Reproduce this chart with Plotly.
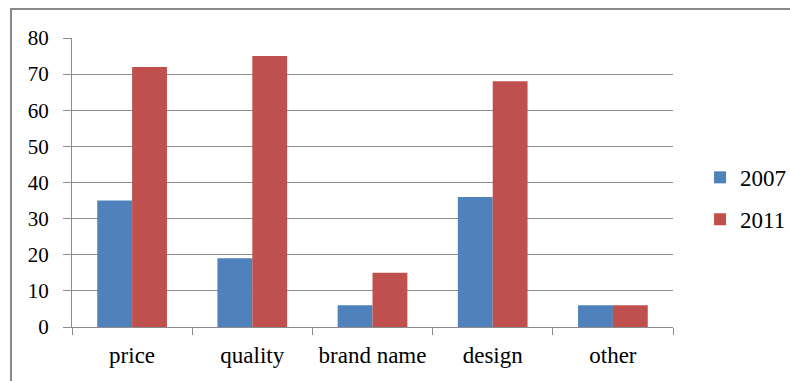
import plotly.graph_objects as go

categories = ["price", "quality", "brand name", "design", "other"]
values_2007 = [35, 19, 6, 36, 6]
values_2011 = [72, 75, 15, 68, 6]
series_names = ["2007", "2011"]
y_ticks = [0, 10, 20, 30, 40, 50, 60, 70, 80]

FONT = "Liberation Serif, Times New Roman, Tinos, serif"
GRID = "#8c8c8c"

fig = go.Figure()
fig.add_trace(go.Bar(x=categories, y=values_2007, name=series_names[0],
                     legendgroup="a",
                     marker=dict(color="#4F81BD", line=dict(width=0))))
fig.add_trace(go.Bar(x=categories, y=values_2011, name=series_names[1],
                     legendgroup="b",
                     marker=dict(color="#C0504D", line=dict(width=0))))

fig.update_layout(
    width=790, height=381,
    margin=dict(l=72, r=117, t=38, b=54, autoexpand=False),
    paper_bgcolor="white", plot_bgcolor="white",
    barmode="group", bargap=0.42, bargroupgap=0,
    font=dict(family=FONT, size=21, color="black"),
    legend=dict(x=1.045, y=0.592, xanchor="left", yanchor="top",
                font=dict(family=FONT, size=23), itemwidth=30,
                traceorder="grouped", tracegroupgap=9,
                bgcolor="rgba(0,0,0,0)"),
    xaxis=dict(showline=True, linecolor=GRID, linewidth=1,
               ticks="outside", tickson="boundaries", ticklen=7,
               tickcolor=GRID, showgrid=False, ticklabelstandoff=7,
               tickfont=dict(family=FONT, size=23)),
    yaxis=dict(range=[0, 80], tickvals=y_ticks, showline=True,
               linecolor=GRID, linewidth=1, ticks="outside", ticklen=8,
               tickcolor=GRID, showgrid=True, gridcolor=GRID, gridwidth=1,
               zeroline=False, ticklabelstandoff=10,
               tickfont=dict(family=FONT, size=21)),
)

# outer chart border (extends past the cropped right/bottom edges)
fig.add_shape(type="rect", xref="paper", yref="paper",
              x0=(11 - 72) / 601, x1=(800 - 72) / 601,
              y0=(327 - 395) / 289, y1=(327 - 9) / 289,
              line=dict(color="#8a8a8a", width=2), fillcolor="rgba(0,0,0,0)",
              layer="below")

fig.write_html("out.html")
